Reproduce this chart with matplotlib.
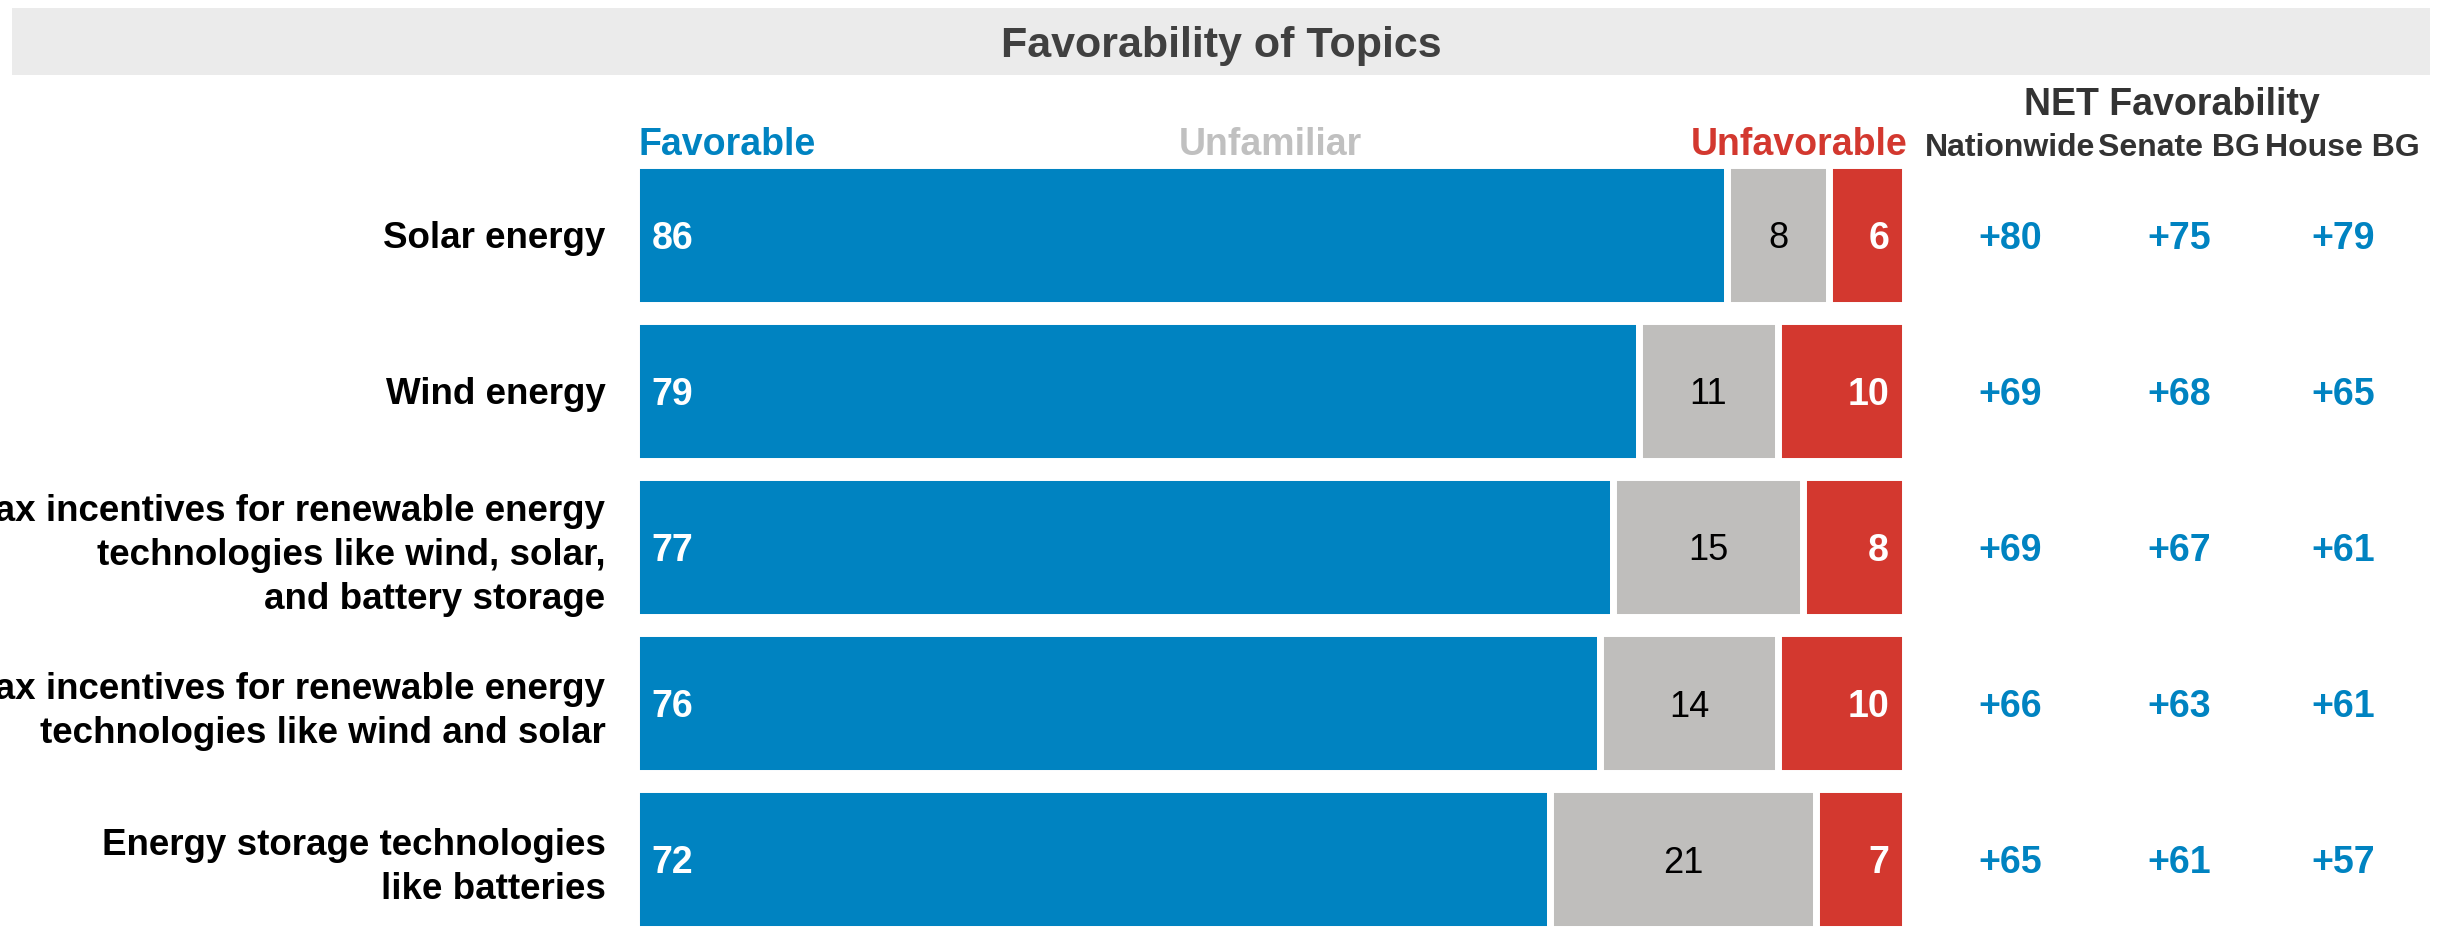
import matplotlib.pyplot as plt
from matplotlib.patches import Rectangle

plt.rcParams["font.family"] = ["Liberation Sans", "DejaVu Sans"]

topics = [
    "Solar energy",
    "Wind energy",
    "Tax incentives for renewable energy\ntechnologies like wind, solar,\nand battery storage",
    "Tax incentives for renewable energy\ntechnologies like wind and solar",
    "Energy storage technologies\nlike batteries",
]
favorable = [86, 79, 77, 76, 72]
unfamiliar = [8, 11, 15, 14, 21]
unfavorable = [6, 10, 8, 10, 7]

net_columns = ["Nationwide", "Senate BG", "House BG"]
net_nationwide = [80, 69, 69, 66, 65]
net_senate = [75, 68, 67, 63, 61]
net_house = [79, 65, 61, 61, 57]

BLUE = "#0083C1"
GRAY = "#BFBEBC"
RED = "#D3382F"
DARK = "#333333"

W, H = 2443, 930
fig = plt.figure(figsize=(W / 100, H / 100), dpi=100)

# title banner
fig.patches.append(Rectangle((12 / W, 1 - 75 / H), (2430 - 12) / W, 67 / H,
                             transform=fig.transFigure, facecolor="#EBEBEB",
                             edgecolor="none", zorder=0))
fig.text(1221 / W, 1 - 42 / H, "Favorability of Topics", ha="center",
         va="center_baseline", fontsize=31, fontweight="bold", color="#404040")

# bar area: 0..100 maps to 636..1905 px, rows every 156 px
ax = fig.add_axes([636 / W, 1 - 937 / H, 1269 / W, 780 / H])
ax.set_xlim(0, 100)
ax.set_ylim(4.5, -0.5)
for s in ax.spines.values():
    s.set_visible(False)
ax.set_xticks([])

rows = list(range(len(topics)))
left2 = [f + u for f, u in zip(favorable, unfamiliar)]
kw = dict(height=0.9, edgecolor="white", linewidth=5)
ax.barh(rows, favorable, color=BLUE, **kw)
ax.barh(rows, unfamiliar, left=favorable, color=GRAY, **kw)
ax.barh(rows, unfavorable, left=left2, color=RED, **kw)

ax.set_yticks(rows)
ax.set_yticklabels(topics, fontsize=26.5, fontweight="bold", color="black",
                   linespacing=1.33)
ax.tick_params(axis="y", length=0, pad=22)

for i in rows:
    ax.annotate(str(favorable[i]), (0, i), xytext=(11, 0), textcoords="offset points",
                ha="left", va="center_baseline", fontsize=27, fontweight="bold",
                color="white")
    ax.text(favorable[i] + unfamiliar[i] / 2, i, str(unfamiliar[i]), ha="center",
            va="center_baseline", fontsize=26, color="black")
    ax.annotate(str(unfavorable[i]), (100, i), xytext=(-11.5, 0),
                textcoords="offset points", ha="right", va="center_baseline",
                fontsize=27, fontweight="bold", color="white")

# segment headers
hy = -0.6
ax.text(0.2, hy, "Favorable", ha="left", va="center_baseline", fontsize=27,
        fontweight="bold", color=BLUE, clip_on=False)
ax.text(50.0, hy, "Unfamiliar", ha="center", va="center_baseline", fontsize=27,
        fontweight="bold", color="#C0C0C0", clip_on=False)
ax.text(100.2, hy, "Unfavorable", ha="right", va="center_baseline", fontsize=27,
        fontweight="bold", color=RED, clip_on=False)

# NET favorability columns
net_x = [108.3, 121.6, 134.5]
ax.text(121.0, -0.86, "NET Favorability", ha="center", va="center_baseline",
        fontsize=27, fontweight="bold", color=DARK, clip_on=False)
for x, name, vals in zip(net_x, net_columns, [net_nationwide, net_senate, net_house]):
    ax.text(x, -0.58, name, ha="center", va="center_baseline", fontsize=23,
            fontweight="bold", color=DARK, clip_on=False)
    for i, v in enumerate(vals):
        ax.text(x, i, f"+{v}", ha="center", va="center_baseline", fontsize=27,
                fontweight="bold", color=BLUE, clip_on=False)

fig.savefig("out.png", dpi=100, facecolor="white")
